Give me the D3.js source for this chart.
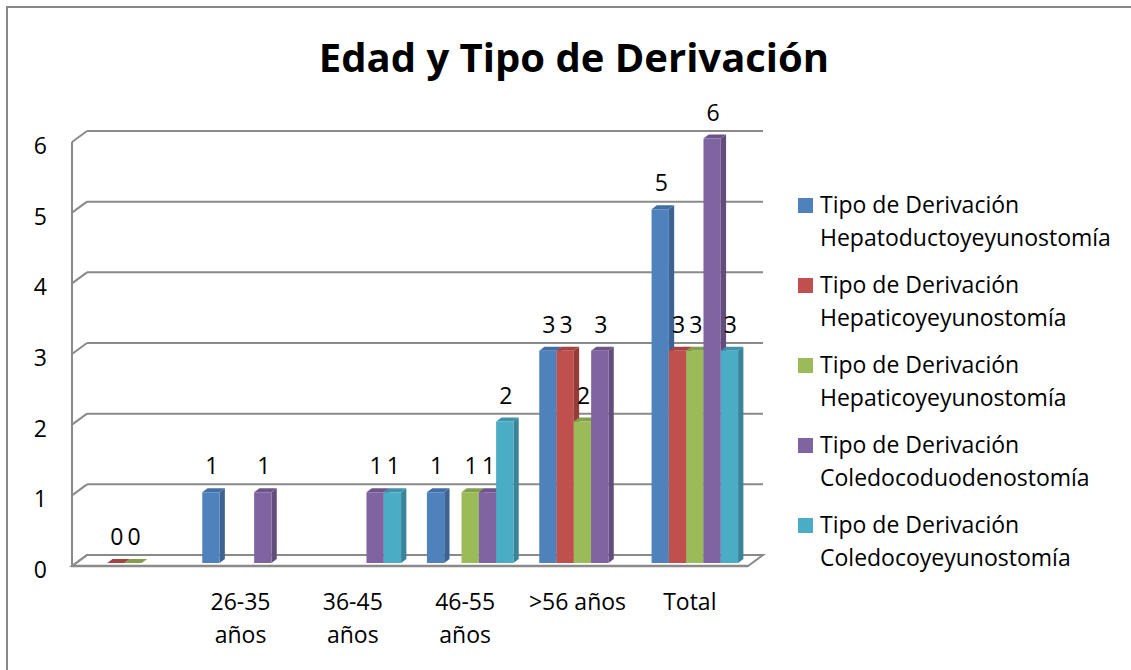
<!DOCTYPE html>
<html><head><meta charset="utf-8">
<script src="https://cdn.jsdelivr.net/npm/d3@7"></script>
<style>html,body{margin:0;padding:0;background:#fff;}svg{display:block;font-family:"Open Sans",sans-serif;}</style>
</head><body>
<script>
const title = "Edad y Tipo de Derivación";
const categories = ["", "26-35 años", "36-45 años", "46-55 años", ">56 años", "Total"];
const seriesNames = [
  "Tipo de Derivación Hepatoductoyeyunostomía",
  "Tipo de Derivación Hepaticoyeyunostomía",
  "Tipo de Derivación Hepaticoyeyunostomía",
  "Tipo de Derivación Coledocoduodenostomía",
  "Tipo de Derivación Coledocoyeyunostomía"
];
const legendLine1 = ["Tipo de Derivación","Tipo de Derivación","Tipo de Derivación","Tipo de Derivación","Tipo de Derivación"];
const legendLine2 = ["Hepatoductoyeyunostomía","Hepaticoyeyunostomía","Hepaticoyeyunostomía","Coledocoduodenostomía","Coledocoyeyunostomía"];
const blueValues   = [null, 1, null, 1, 3, 5];
const redValues    = [0, null, null, null, 3, 3];
const greenValues  = [0, null, null, 1, 2, 3];
const purpleValues = [null, 1, 1, 1, 3, 6];
const tealValues   = [null, null, 1, 2, null, 3];
const seriesValues = [blueValues, redValues, greenValues, purpleValues, tealValues];
const colors = ["#4F81BD", "#C0504D", "#9BBB59", "#8064A2", "#4BACC6"];
const yTicks = [0, 1, 2, 3, 4, 5, 6];

const W = 1131, H = 670;
const svg = d3.select("body").append("svg").attr("width", W).attr("height", H);

// chart border
svg.append("rect").attr("x", 7).attr("y", 7).attr("width", W + 10).attr("height", H + 10)
  .attr("fill", "none").attr("stroke", "#888").attr("stroke-width", 2);

// title
svg.append("text").attr("x", 574).attr("y", 72).attr("text-anchor", "middle")
  .attr("font-size", 40).attr("font-weight", "bold").attr("fill", "#000").text(title);

// geometry
const frontLeft = 72, frontRight = 746, frontBase = 566;
const depthX = 15, depthY = -11;
const x = d3.scaleBand().domain(categories).range([frontLeft, frontRight]);
const yFront = d3.scaleLinear().domain([0, 6]).range([frontBase, frontBase - 424]);
const yBack = d3.scaleLinear().domain([0, 6]).range([frontBase + depthY, frontBase + depthY - 424]);
const clusterW = 86.5;
const pad = (x.bandwidth() - clusterW) / 2;
const xs = d3.scaleBand().domain(d3.range(seriesNames.length)).range([pad, pad + clusterW]);
const barDX = 5, barDY = -3;
const sideX = 5.3, sideY = -4;
const yBar = d3.scaleLinear().domain([0, 6]).range([frontBase + barDY, frontBase + barDY - 424.5]);

const gridColor = "#8a8a8a";
const g = svg.append("g");
const backRight = frontRight + depthX + 2;

// floor
g.append("path")
  .attr("d", `M${frontLeft},${yFront(0)} L${frontLeft + depthX},${yBack(0)} L${backRight},${yBack(0)} L${frontRight + 2},${yFront(0)} Z`)
  .attr("fill", "#fff").attr("stroke", gridColor).attr("stroke-width", 2);

// gridlines
yTicks.forEach(t => {
  g.append("line").attr("x1", frontLeft + depthX).attr("x2", backRight)
    .attr("y1", yBack(t)).attr("y2", yBack(t)).attr("stroke", gridColor).attr("stroke-width", 2);
  g.append("line").attr("x1", frontLeft).attr("x2", frontLeft + depthX)
    .attr("y1", yFront(t)).attr("y2", yBack(t)).attr("stroke", gridColor).attr("stroke-width", 2);
});
g.append("line").attr("x1", frontLeft).attr("x2", frontLeft)
  .attr("y1", yFront(6)).attr("y2", yFront(0)).attr("stroke", gridColor).attr("stroke-width", 2);
g.append("line").attr("x1", frontLeft - 1).attr("x2", frontRight + 2)
  .attr("y1", yFront(0)).attr("y2", yFront(0)).attr("stroke", gridColor).attr("stroke-width", 2.5);

// y tick labels
svg.append("g").selectAll("text").data(yTicks).join("text")
  .attr("x", 47).attr("y", d => yFront(d) + 3).attr("text-anchor", "end")
  .attr("dominant-baseline", "central").attr("font-size", 23).attr("fill", "#000").text(d => d);

// bars
const bars = [];
categories.forEach((c, ci) => {
  seriesValues.forEach((vals, si) => {
    const v = vals[ci];
    if (v === null || v === undefined) return;
    bars.push({ c, ci, si, v });
  });
});
const barG = svg.append("g");
bars.forEach(b => {
  const x0 = x(b.c) + xs(b.si) + barDX;
  const x1 = x0 + xs.bandwidth();
  const yb = yBar(0), yt = yBar(b.v);
  const col = d3.color(colors[b.si]);
  barG.append("path")
    .attr("d", `M${x1},${yb} L${x1 + sideX},${yb + sideY} L${x1 + sideX},${yt + sideY} L${x1},${yt} Z`)
    .attr("fill", col.darker(0.75));
  barG.append("path")
    .attr("d", `M${x0},${yt} L${x0 + sideX},${yt + sideY} L${x1 + sideX},${yt + sideY} L${x1},${yt} Z`)
    .attr("fill", col.darker(0.45));
  if (b.v > 0) {
    barG.append("rect").attr("x", x0).attr("y", yt).attr("width", xs.bandwidth()).attr("height", yb - yt)
      .attr("fill", col);
  }
});

// data labels
svg.append("g").selectAll("text").data(bars).join("text")
  .attr("x", d => x(d.c) + xs(d.si) + barDX + xs.bandwidth() / 2 + 1)
  .attr("y", d => yBar(d.v) - 18)
  .attr("text-anchor", "middle").attr("font-size", 23).attr("fill", "#000").text(d => d.v);

// category labels
const catG = svg.append("g");
categories.forEach(c => {
  if (!c) return;
  const cx = x(c) + x.bandwidth() / 2;
  const t = catG.append("text").attr("x", cx).attr("y", 610).attr("text-anchor", "middle")
    .attr("font-size", 23).attr("fill", "#000").text(c);
  if (t.node().getComputedTextLength() > 105 && c.includes(" ")) {
    const i = c.lastIndexOf(" ");
    t.text(null);
    t.append("tspan").attr("x", cx).attr("y", 610).text(c.slice(0, i));
    t.append("tspan").attr("x", cx).attr("y", 643).text(c.slice(i + 1));
  }
});

// legend
const leg = svg.append("g");
seriesNames.forEach((s, i) => {
  const y0 = 198 + i * 80;
  leg.append("rect").attr("x", 798).attr("y", y0).attr("width", 15).attr("height", 15).attr("fill", colors[i]);
  leg.append("text").attr("x", 820).attr("y", y0 + 15).attr("font-size", 23).attr("fill", "#000").text(legendLine1[i]);
  leg.append("text").attr("x", 820).attr("y", y0 + 48).attr("font-size", 23).attr("fill", "#000").text(legendLine2[i]);
});
</script>
</body></html>
